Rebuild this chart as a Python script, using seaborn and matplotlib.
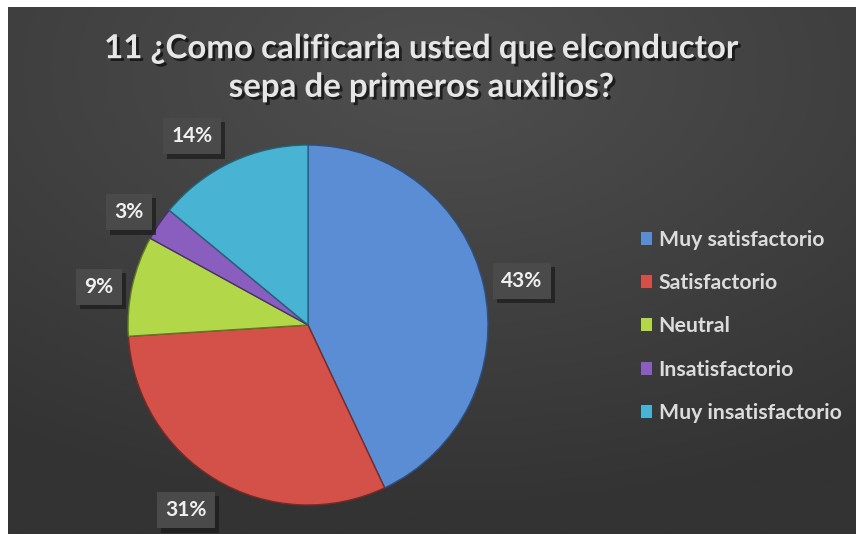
import numpy as np
import matplotlib
matplotlib.use("Agg")
import matplotlib.pyplot as plt
import matplotlib.patheffects as pe
from matplotlib.patches import Patch
import seaborn as sns

# Survey answers (percent)
categories = ["Muy satisfactorio", "Satisfactorio", "Neutral",
              "Insatisfactorio", "Muy insatisfactorio"]
values = [43, 31, 9, 3, 14]
pct_labels = ["43%", "31%", "9%", "3%", "14%"]
title = "11 ¿Como calificaria usted que elconductor\nsepa de primeros auxilios?"

colors = ["#5a8dd3", "#d4514a", "#b2d84a", "#8a5ebf", "#49b3d3"]
edges = ["#2e4f80", "#7a2a26", "#5e7a22", "#4a2f70", "#23647a"]

sns.set_theme(style="dark")
plt.rcParams["font.family"] = ["Lato", "DejaVu Sans"]

W, H = 856, 534
fig = plt.figure(figsize=(W / 100, H / 100), dpi=100, facecolor="white")

# dark chart area with a soft radial glow behind the title
bg = fig.add_axes([8 / W, 0, (W - 8) / W, (H - 7) / H])
yy, xx = np.mgrid[0:1:300j, 0:1:480j]
d = np.sqrt(((xx - 0.5) / 0.9) ** 2 + ((yy - 0.12) / 0.85) ** 2)
shade = 0.31 - 0.11 * np.clip(d, 0, 1)
bg.imshow(np.dstack([shade] * 3), aspect="auto", extent=[0, 1, 1, 0])
bg.set_axis_off()

# pie axes spanning the figure; 1 data unit = 180 px
ax = fig.add_axes([0, 0, 1, 1])
ax.patch.set_alpha(0)
cx, cy, r = 308, 209, 180
wedges, _ = ax.pie(values, colors=colors, startangle=90, counterclock=False,
                   radius=1.0, center=(0, 0),
                   wedgeprops=dict(linewidth=1.0))
for w, ec in zip(wedges, edges):
    w.set_edgecolor(ec)
ax.set_xlim(-cx / r, (W - cx) / r)
ax.set_ylim(-cy / r, (H - cy) / r)
ax.set_aspect("auto")
ax.set_axis_off()

# percentage labels in small boxes with a drop shadow
label_pos = [(522, 281), (186, 510), (99, 287), (129, 212), (192, 136)]
for lab, (px, py) in zip(pct_labels, label_pos):
    x = (px - cx) / r
    y = (H - py - cy) / r
    t = ax.text(x, y, lab, ha="center", va="center", fontsize=15,
                fontweight="bold", color="#f0f0f0",
                bbox=dict(boxstyle="square,pad=0.4", fc="#4a4a4a", ec="none"))
    t.get_bbox_patch().set_path_effects(
        [pe.withSimplePatchShadow(offset=(3, -3), shadow_rgbFace="#1a1a1a", alpha=0.7)])

fig.text(421 / W, 1 - 68 / H, title, ha="center", va="center",
         fontsize=23.8, fontweight="bold", color="#e6e6e6", linespacing=1.4,
         path_effects=[pe.withSimplePatchShadow(offset=(2, -2), shadow_rgbFace="black", alpha=0.6)])

handles = [Patch(facecolor=c, edgecolor="none") for c in colors]
leg = fig.legend(handles, categories, loc="upper left",
                 bbox_to_anchor=(630 / W, 1 - 219 / H), frameon=False,
                 handlelength=0.55, handleheight=0.55, handletextpad=0.3,
                 labelspacing=1.1, borderpad=0,
                 prop=dict(size=15.3, weight="bold"))
for t in leg.get_texts():
    t.set_color("#dcdcdc")

fig.savefig("out.png", dpi=100, facecolor="white")
